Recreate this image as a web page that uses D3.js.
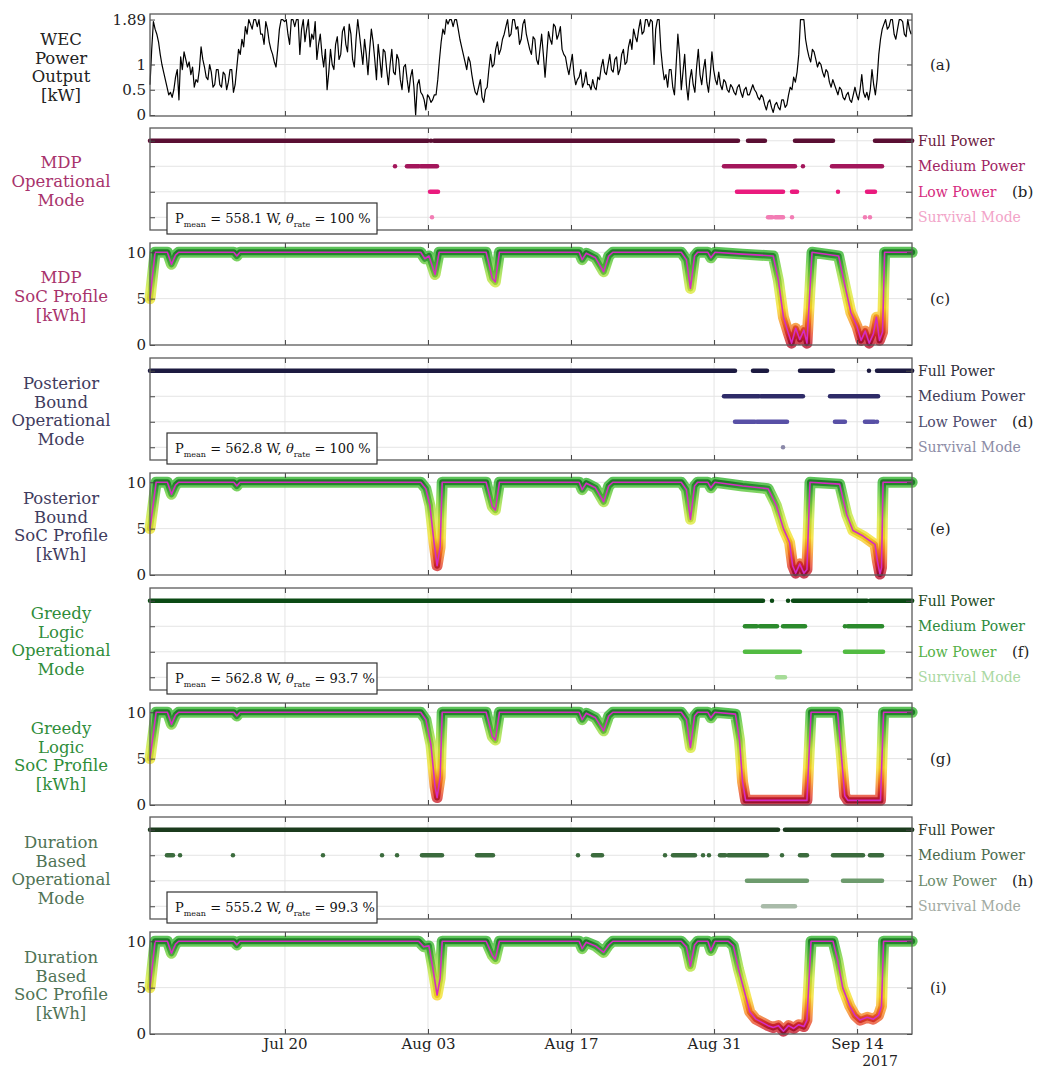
<!DOCTYPE html>
<html>
<head>
<meta charset="utf-8">
<script src="https://cdn.jsdelivr.net/npm/d3@7"></script>
<style>
body { margin: 0; background: #fff; }
svg text { font-family: "DejaVu Serif", "Liberation Serif", serif; }
</style>
</head>
<body>
<script>
// ---- data (time in days since 2017-07-06 19:00 UTC) ----
var startTime = Date.UTC(2017, 6, 6, 19);
var lastDay = 74.583;
var dateTicks = ["2017-07-20", "2017-08-03", "2017-08-17", "2017-08-31", "2017-09-14"];

// WEC power output [kW], one value every 4 hours (one row per day)
var powerStep = 1 / 6;
var wecPower = [
  0.6, 1.3, 1.85, 1.7, 1.6, 1.45,
  1.2, 1.0, 0.85, 0.7, 0.55, 0.4,
  0.45, 0.35, 0.5, 0.75, 0.9, 0.3,
  1.15, 0.9, 1.25, 1.1, 0.95, 1.05,
  0.8, 0.95, 0.55, 0.7, 0.65, 0.9,
  1.35, 1.1, 0.95, 0.75, 0.7, 1.0,
  0.85, 0.55, 0.6, 0.9, 0.9, 0.6,
  0.55, 0.85, 0.8, 0.5, 0.65, 0.9,
  0.9, 0.45, 0.6, 0.95, 1.3, 1.2,
  1.5, 1.35, 1.75, 1.6, 1.89, 1.8,
  1.7, 1.89, 1.89, 1.75, 1.89, 1.6,
  1.6, 1.4, 1.85, 1.7, 1.45, 1.3,
  1.2, 1.05, 0.95, 1.3, 1.7, 1.89,
  1.89, 1.85, 1.89, 1.6, 1.4, 1.89,
  1.89, 1.75, 1.89, 1.89, 1.2, 1.7,
  1.89, 1.45, 1.7, 1.89, 1.35, 1.6,
  1.5, 1.85, 1.1, 1.4, 1.6, 1.2,
  0.95, 1.3, 0.5, 0.85, 1.3, 1.0,
  0.9, 1.4, 1.55, 1.1, 1.2, 1.65,
  1.75, 1.4, 1.25, 1.8, 1.6, 1.1,
  0.95, 1.5, 1.89, 1.6, 1.3, 1.0,
  1.5, 1.2, 0.8, 1.3, 1.7, 1.45,
  1.1, 0.7, 1.4, 1.1, 0.75, 1.3,
  1.25, 0.9, 0.6, 1.0, 1.3, 0.85,
  0.8, 1.2, 1.1, 0.7, 0.5, 0.95,
  1.0, 0.7, 0.45, 0.75, 0.9, 0.55,
  0.0, 0.6, 0.7, 0.45, 0.4, 0.3,
  0.1, 0.4, 0.35, 0.25, 0.3, 0.4,
  0.4, 0.7, 1.1, 1.45, 1.7, 1.6,
  1.89, 1.8, 1.89, 1.89, 1.75, 1.89,
  1.89, 1.7, 1.5, 1.35, 1.2, 1.05,
  0.9, 1.15, 1.05, 0.8, 0.6, 0.45,
  0.4, 0.55, 0.7, 0.35, 0.25, 0.5,
  0.55, 0.9, 1.2, 0.95, 1.0, 1.3,
  1.45, 1.2, 1.3, 1.5, 1.6, 1.75,
  1.89, 1.55, 1.6, 1.89, 1.89, 1.7,
  1.75, 1.4, 1.5, 1.8, 1.89, 1.6,
  1.45, 1.3, 1.2, 1.55, 1.5, 1.1,
  1.0, 1.3, 1.6, 1.2, 0.75, 1.2,
  1.65, 1.5, 1.4, 1.8, 1.75, 1.5,
  1.6, 1.75, 1.3, 1.2, 1.15, 0.95,
  0.8, 1.0, 1.2, 0.8, 0.6, 0.7,
  0.75, 0.9, 0.55, 0.65, 0.85, 0.6,
  0.6, 0.5, 0.7, 0.55, 0.5, 0.75,
  0.7, 0.95, 1.1, 0.85, 0.8, 1.0,
  1.2, 0.9, 0.85, 1.1, 1.15, 0.8,
  0.9, 1.2, 1.3, 1.0, 1.05, 1.35,
  1.5, 1.3, 1.7, 1.55, 1.45, 1.7,
  1.89, 1.6, 1.65, 1.89, 1.89, 1.75,
  1.89, 1.85, 1.0, 1.7, 1.89, 1.89,
  1.3, 0.95, 0.7, 0.8, 0.55, 0.9,
  0.9, 0.55, 0.4, 1.0, 1.6, 1.2,
  0.5, 0.85, 1.2, 0.6, 0.3, 0.7,
  0.9, 0.6, 0.45, 0.95, 1.3, 0.8,
  0.6, 0.9, 1.1, 0.65, 0.45, 0.8,
  1.25, 0.9, 0.7, 0.6, 0.85, 0.6,
  0.5, 0.7, 0.65, 0.5, 0.45, 0.6,
  0.55, 0.45, 0.4, 0.55, 0.6, 0.45,
  0.35, 0.5, 0.55, 0.4, 0.4, 0.5,
  0.6, 0.5, 0.45, 0.35, 0.3, 0.4,
  0.35, 0.2, 0.1, 0.25, 0.3, 0.15,
  0.05, 0.2, 0.25, 0.15, 0.1, 0.3,
  0.3, 0.15, 0.2, 0.4, 0.55, 0.5,
  0.75, 0.65, 0.85, 1.2, 1.89, 1.89,
  1.89, 1.5, 1.3, 1.15, 1.05, 1.3,
  1.25, 1.1, 0.95, 1.05, 1.0, 0.85,
  0.75, 0.9, 0.85, 0.65, 0.55, 0.7,
  0.6, 0.5, 0.4, 0.55, 0.5, 0.35,
  0.3, 0.4, 0.45, 0.3, 0.25, 0.4,
  0.55, 0.4, 0.3, 0.5, 0.8, 0.45,
  0.35, 0.45, 0.3, 0.5, 0.9, 0.6,
  0.4, 0.7, 1.2, 1.5, 1.7, 1.8,
  1.89, 1.7, 1.75, 1.89, 1.89, 1.6,
  1.5, 1.7, 1.89, 1.89, 1.85, 1.6,
  1.55, 1.89, 1.7, 1.6
];
var powerTicks = [0, 0.5, 1, 1.89];

var modeNames = ["Full Power", "Medium Power", "Low Power", "Survival Mode"];

// operational mode intervals [from, to] in days
var mdpFull = [[0, 27.2], [27.5, 27.5], [27.8, 57.55], [58.53, 60.19], [63.13, 66.85], [70.96, 74.6]];
var mdpMedium = [[23.98, 23.98], [25.15, 26.3], [26.5, 28.09], [56.18, 63.13], [63.91, 63.91], [66.75, 71.65]];
var mdpLow = [[27.41, 28.19], [57.45, 61.96], [62.84, 63.33], [67.34, 67.34], [70.18, 70.96]];
var mdpSurvival = [[27.6, 27.6], [60.49, 60.9], [61.2, 61.96], [62.84, 62.84], [69.98, 69.98], [70.47, 70.47]];

var pbFull = [[0, 57.26], [59.02, 60.39], [63.62, 66.85], [70.37, 70.37], [71.16, 74.6]];
var pbMedium = [[56.18, 59.6], [59.8, 63.91], [66.56, 71.26]];
var pbLow = [[57.26, 59.2], [59.4, 62.35], [67.04, 68.02], [69.98, 70.9], [71.16, 71.16]];
var pbSurvival = [[61.96, 61.96]];

var gFull = [[0, 60.0], [60.88, 60.88], [62.45, 62.45], [62.94, 70.18], [70.47, 74.6]];
var gMedium = [[58.23, 59.4], [59.7, 61.37], [61.96, 64.11], [68.02, 68.02], [68.3, 71.65]];
var gLow = [[58.23, 63.62], [68.02, 71.75]];
var gSurvival = [[61.37, 62.15]];

var dFull = [[0, 61.47], [62.15, 74.6]];
var dMedium = [[1.66, 2.25], [2.94, 2.94], [8.12, 8.12], [16.93, 16.93], [22.71, 22.71], [24.18, 24.18],
  [26.62, 28.58], [32.01, 33.57], [41.89, 41.89], [43.36, 44.24], [50.41, 50.41], [51.19, 53.34],
  [54.13, 54.13], [54.71, 54.71], [55.79, 56.3], [56.6, 60.39], [61.86, 61.86], [63.62, 64.3],
  [66.85, 69.79], [70.47, 71.65]];
var dLow = [[58.43, 64.3], [67.83, 71.65]];
var dSurvival = [[60.0, 63.13]];

// state of charge [kWh] at [day, value]
var mdpSoc = [[0,5],[0.5,10],[1.7,10],[2.1,8.7],[2.5,9.7],[2.8,10],[8.2,10],[8.5,9.6],[8.8,10],
  [26.5,10],[26.9,9.3],[27.3,9.6],[27.9,7.6],[28.3,10],[32.9,10],[33.5,7.2],[33.8,6.8],[34.2,10],
  [42.0,10],[42.3,9.2],[42.7,9.9],[43.6,9.4],[44.4,7.9],[44.9,9.6],[45.3,10],[52.0,10],[52.5,9.2],
  [52.9,6.1],[53.3,9.6],[53.6,10],[54.6,10],[54.9,9.4],[55.3,10],[58.0,9.8],[61.0,9.6],[61.5,7.0],
  [62.0,3.0],[62.5,1.2],[62.8,0.2],[63.2,1.8],[63.6,0.6],[64.0,1.6],[64.3,0.2],[64.8,10],[67.4,9.6],
  [68.0,6.5],[68.6,3.5],[69.2,2.0],[69.6,0.5],[70.0,1.5],[70.4,0.2],[70.8,1.2],[71.1,3.0],[71.4,0.5],
  [71.7,1.4],[71.9,10],[74.6,10]];
var pbSoc = [[0,5],[0.6,10],[1.7,10],[2.1,8.7],[2.5,9.7],[2.8,10],[8.2,10],[8.5,9.6],[8.8,10],
  [26.5,10],[27.0,9.3],[27.4,7.5],[27.8,3.5],[28.1,1.0],[28.4,3.0],[28.6,10],[32.9,10],[33.5,7.4],
  [33.8,7.0],[34.2,10],[42.0,10],[42.3,9.2],[42.7,9.9],[43.6,9.4],[44.4,7.9],[44.9,9.6],[45.3,10],
  [52.0,10],[52.5,9.2],[52.9,6.0],[53.3,9.6],[53.6,10],[54.6,10],[54.9,9.4],[55.3,10],[58.0,9.6],
  [60.5,9.3],[61.3,7.5],[62.0,5.0],[62.6,3.5],[62.9,1.0],[63.2,0.2],[63.6,1.2],[64.0,0.2],[64.3,0.6],
  [64.6,10],[67.5,9.8],[68.2,6.5],[68.8,4.8],[69.8,4.2],[70.96,3.3],[71.2,1.5],[71.45,0.1],[71.6,0.8],
  [71.75,10],[74.6,10]];
var gSoc = [[0,5],[0.6,10],[1.7,10],[2.1,8.7],[2.5,9.7],[2.8,10],[8.2,10],[8.5,9.6],[8.8,10],
  [26.5,10],[27.0,9.2],[27.5,6.5],[27.9,2.0],[28.1,0.8],[28.4,3.0],[28.6,10],[32.9,10],[33.5,7.4],
  [33.8,7.0],[34.2,10],[42.0,10],[42.3,9.2],[42.7,9.9],[43.6,9.4],[44.4,8.0],[44.9,9.6],[45.3,10],
  [52.0,10],[52.5,9.2],[52.9,6.2],[53.3,9.6],[53.6,10],[54.6,10],[54.9,9.4],[55.3,10],[57.3,9.8],
  [57.7,7.0],[58.0,2.5],[58.3,0.5],[64.3,0.5],[64.7,10],[67.3,10],[67.7,5.0],[68.0,1.0],[68.3,0.5],
  [71.5,0.5],[71.8,10],[74.6,10]];
var dSoc = [[0,5],[0.5,10],[1.7,10],[2.1,8.7],[2.5,9.7],[2.8,10],[8.2,10],[8.5,9.6],[8.8,10],
  [26.3,10],[26.8,9.4],[27.3,9.5],[27.7,7.0],[28.1,4.2],[28.4,6.0],[28.6,10],[32.9,10],[33.5,8.5],
  [33.8,8.1],[34.2,10],[42.0,10],[42.3,9.2],[42.7,9.9],[43.6,9.5],[44.4,8.8],[44.9,9.6],[45.3,10],
  [52.0,10],[52.5,9.4],[52.9,7.3],[53.3,9.6],[53.6,10],[54.6,10],[54.9,9.0],[55.3,10],[56.6,10],
  [57.1,9.5],[57.6,7.0],[58.2,4.5],[58.7,2.4],[59.3,1.6],[60.0,1.2],[60.5,0.9],[61.0,0.7],[61.5,0.9],
  [62.0,0.3],[62.5,0.9],[63.0,0.6],[63.5,1.0],[64.0,0.8],[64.3,1.5],[64.7,10],[66.85,10],[67.3,8.0],
  [67.8,5.0],[68.5,3.0],[69.0,2.0],[69.5,1.5],[70.2,1.8],[70.8,1.6],[71.3,2.0],[71.6,3.0],[71.8,10],
  [74.6,10]];
var socTicks = [0, 5, 10];

var strategyNames = ["MDP", "Posterior Bound", "Greedy Logic", "Duration Based"];
var pMean = [558.1, 562.8, 562.8, 555.2];
var thetaRate = ["100", "100", "93.7", "99.3"];

// ---- styling ----
var modeData = [
  [mdpFull, mdpMedium, mdpLow, mdpSurvival],
  [pbFull, pbMedium, pbLow, pbSurvival],
  [gFull, gMedium, gLow, gSurvival],
  [dFull, dMedium, dLow, dSurvival]
];
var socData = [mdpSoc, pbSoc, gSoc, dSoc];
var labelColor = ["#a8336c", "#3f3c5e", "#2f8d3a", "#4f7355"];
var markColor = [
  ["#5a0e33", "#a3165b", "#ea1a7e", "#f27cb4"],
  ["#1c1a40", "#2e2b68", "#5850a6", "#8a88a8"],
  ["#0b4a14", "#2b8a2c", "#52bb42", "#a6dc98"],
  ["#1b3b1d", "#3b6b3d", "#6d9b6d", "#a9bba9"]
];
var modeLabelColor = [
  ["#6b1a3e", "#a12463", "#d52a7d", "#f2a4c8"],
  ["#2e2e3a", "#3e3c58", "#4c4a6c", "#8c8ca6"],
  ["#1c4a1e", "#2e8a3c", "#54b046", "#aad8a2"],
  ["#2c3a2c", "#4a6a4c", "#6a8a6a", "#a2aaa2"]
];
var socInner = [[0, "#8c0a2e"], [1, "#c8202a"], [2.5, "#ee6a1e"], [4, "#f0c81f"], [6, "#b8d838"],
  [8, "#5cb838"], [9.4, "#2e9834"], [10, "#1d7a25"]];
var socOuter = [[0, "#c0203a"], [1, "#e8503a"], [2.5, "#f8a030"], [4, "#f6e23a"], [6, "#d8ec4c"],
  [8, "#96dc4c"], [9.4, "#56c444"], [10, "#40b83c"]];

var L = 150, R = 912, H = 102;
var tops = [14, 128, 243, 358, 473, 588, 703, 817, 932];
var letters = ["(a)", "(b)", "(c)", "(d)", "(e)", "(f)", "(g)", "(h)", "(i)"];

function toDate(d) { return new Date(startTime + d * 864e5); }

var x = d3.scaleUtc().domain([toDate(0), toDate(lastDay)]).range([L, R]);
var tickDates = dateTicks.map(function(s) { return new Date(s + "T00:00:00Z"); });

var svg = d3.select("body").append("svg")
  .attr("width", 1040).attr("height", 1068);

var defs = svg.append("defs");

function frame(g, top) {
  g.append("g").attr("class", "grid")
    .selectAll("line").data(tickDates).enter().append("line")
    .attr("x1", function(d) { return x(d); }).attr("x2", function(d) { return x(d); })
    .attr("y1", top).attr("y2", top + H)
    .attr("stroke", "#e4e4e4").attr("stroke-width", 1);
}

function hgrid(g, ys) {
  g.append("g").selectAll("line").data(ys).enter().append("line")
    .attr("x1", L).attr("x2", R).attr("y1", function(d) { return d; }).attr("y2", function(d) { return d; })
    .attr("stroke", "#e4e4e4").attr("stroke-width", 1);
}

function border(g, top, isLast) {
  var ax = g.append("g").attr("transform", "translate(0," + (top + H) + ")")
    .call(d3.axisBottom(x).tickValues(tickDates).tickSize(-5).tickPadding(4)
      .tickFormat(isLast ? d3.utcFormat("%b %d") : ""));
  ax.select(".domain").remove();
  ax.selectAll("line").attr("stroke", "#444");
  ax.selectAll("text").attr("font-size", 15).attr("fill", "#222");
  var at = g.append("g").attr("transform", "translate(0," + top + ")")
    .call(d3.axisTop(x).tickValues(tickDates).tickSize(-5).tickFormat(""));
  at.select(".domain").remove();
  at.selectAll("line").attr("stroke", "#444");
  g.append("rect").attr("x", L).attr("y", top).attr("width", R - L).attr("height", H)
    .attr("fill", "none").attr("stroke", "#5a5a5a").attr("stroke-width", 1.3);
}

function yAxes(g, y, ticks, fmt) {
  var al = g.append("g").attr("transform", "translate(" + L + ",0)")
    .call(d3.axisLeft(y).tickValues(ticks).tickSize(-5).tickPadding(4).tickFormat(fmt));
  al.select(".domain").remove();
  al.selectAll("line").attr("stroke", "#444");
  al.selectAll("text").attr("font-size", 15).attr("fill", "#222");
  var ar = g.append("g").attr("transform", "translate(" + R + ",0)")
    .call(d3.axisRight(y).tickValues(ticks).tickSize(-5).tickFormat(""));
  ar.select(".domain").remove();
  ar.selectAll("line").attr("stroke", "#444");
}

function leftLabel(lines, color, top) {
  var cy = top + H / 2 + 2;
  var lh = 18.6;
  var t = svg.append("text").attr("x", 61).attr("text-anchor", "middle")
    .attr("font-size", 16.5).attr("fill", color);
  lines.forEach(function(s, i) {
    t.append("tspan").attr("x", 61)
      .attr("y", cy + (i - (lines.length - 1) / 2) * lh + 6)
      .text(s);
  });
}

function letter(i, xPos, yPos) {
  svg.append("text").attr("x", xPos).attr("y", yPos + 5).attr("font-size", 15)
    .attr("fill", "#222").text(letters[i]);
}

function gradient(id, y, stops) {
  defs.append("linearGradient").attr("id", id)
    .attr("gradientUnits", "userSpaceOnUse")
    .attr("x1", 0).attr("x2", 0).attr("y1", y(0)).attr("y2", y(10))
    .selectAll("stop").data(stops).enter().append("stop")
    .attr("offset", function(d) { return d[0] / 10; })
    .attr("stop-color", function(d) { return d[1]; });
}

// ---- panel (a): WEC power ----
(function() {
  var top = tops[0];
  var g = svg.append("g");
  var y = d3.scaleLinear().domain([0, 2]).range([top + 101, top]);
  frame(g, top);
  hgrid(g, [y(0.5), y(1)]);
  var line = d3.line()
    .x(function(d, i) { return x(toDate(i * powerStep)); })
    .y(function(d) { return y(d); });
  g.append("path").datum(wecPower).attr("d", line)
    .attr("fill", "none").attr("stroke", "#000").attr("stroke-width", 1.2)
    .attr("stroke-linejoin", "round");
  yAxes(g, y, powerTicks, function(d) { return d === 1.89 ? "1.89" : d3.format("~g")(d); });
  border(g, top, false);
  leftLabel(["WEC", "Power", "Output", "[kW]"], "#222", top);
  letter(0, 930, y(1));
})();

// ---- strategy panels ----
strategyNames.forEach(function(name, s) {
  // operational mode panel
  var top = tops[1 + 2 * s];
  var g = svg.append("g");
  var y = d3.scalePoint().domain(modeNames).range([top, top + H]).padding(0.5);
  frame(g, top);
  hgrid(g, modeNames.map(function(m) { return y(m); }));
  modeData[s].forEach(function(intervals, m) {
    g.append("g").selectAll("line").data(intervals).enter().append("line")
      .attr("x1", function(d) { return x(toDate(d[0])); })
      .attr("x2", function(d) { return x(toDate(d[1])); })
      .attr("y1", y(modeNames[m])).attr("y2", y(modeNames[m]))
      .attr("stroke", markColor[s][m]).attr("stroke-width", 4.5)
      .attr("stroke-linecap", "round");
  });
  var al = g.append("g").attr("transform", "translate(" + L + ",0)")
    .call(d3.axisLeft(y).tickSize(-5).tickFormat(""));
  al.select(".domain").remove();
  al.selectAll("line").attr("stroke", "#444");
  var ar = g.append("g").attr("transform", "translate(" + R + ",0)")
    .call(d3.axisRight(y).tickSize(-6).tickPadding(6));
  ar.select(".domain").remove();
  ar.selectAll("line").attr("stroke", "#444");
  ar.selectAll("text").attr("font-size", 14)
    .attr("fill", function(d, i) { return modeLabelColor[s][i]; });
  border(g, top, false);

  // stats box
  var bx = 167, by = top + H - 27;
  g.append("rect").attr("x", bx).attr("y", by).attr("width", 210).attr("height", 31)
    .attr("fill", "#fff").attr("stroke", "#333").attr("stroke-width", 1.2);
  var t = g.append("text").attr("x", bx + 8).attr("y", by + 20).attr("font-size", 13).attr("fill", "#111");
  t.append("tspan").text("P");
  t.append("tspan").attr("dy", 4).attr("font-size", 8).text("mean");
  t.append("tspan").attr("dy", -4).text(" = " + d3.format(".1f")(pMean[s]) + " W, ");
  t.append("tspan").attr("font-style", "italic").text("θ");
  t.append("tspan").attr("dy", 4).attr("font-size", 8).text("rate");
  t.append("tspan").attr("dy", -4).text(" = " + thetaRate[s] + " %");

  var words = name.split(" ");
  leftLabel(words.concat(["Operational", "Mode"]), labelColor[s], top);
  letter(1 + 2 * s, 1012, y("Low Power"));

  // SoC panel
  var top2 = tops[2 + 2 * s];
  var g2 = svg.append("g");
  var y2 = d3.scaleLinear().domain([0, 11]).range([top2 + H, top2]);
  frame(g2, top2);
  hgrid(g2, [y2(5), y2(10)]);

  gradient("socOuter" + s, y2, socOuter);
  gradient("socInner" + s, y2, socInner);

  var line = d3.line()
    .x(function(d) { return x(toDate(d[0])); })
    .y(function(d) { return y2(d[1]); });
  g2.append("path").datum(socData[s]).attr("d", line)
    .attr("fill", "none").attr("stroke", "url(#socOuter" + s + ")").attr("stroke-width", 11)
    .attr("stroke-opacity", 0.85).attr("stroke-linejoin", "round").attr("stroke-linecap", "round");
  g2.append("path").datum(socData[s]).attr("d", line)
    .attr("fill", "none").attr("stroke", "url(#socInner" + s + ")").attr("stroke-width", 6)
    .attr("stroke-linejoin", "round").attr("stroke-linecap", "round");
  g2.append("path").datum(socData[s]).attr("d", line)
    .attr("fill", "none").attr("stroke", "#d42cc2").attr("stroke-width", 1.6)
    .attr("stroke-linejoin", "round");

  yAxes(g2, y2, socTicks, d3.format("d"));
  border(g2, top2, s === 3);
  leftLabel(words.concat(["SoC Profile", "[kWh]"]), labelColor[s], top2);
  letter(2 + 2 * s, 930, y2(5));
});

// year label under the last tick
svg.append("text").attr("x", 880).attr("y", 1066).attr("text-anchor", "middle")
  .attr("font-size", 14).attr("fill", "#222").text("2017");
</script>
</body>
</html>
